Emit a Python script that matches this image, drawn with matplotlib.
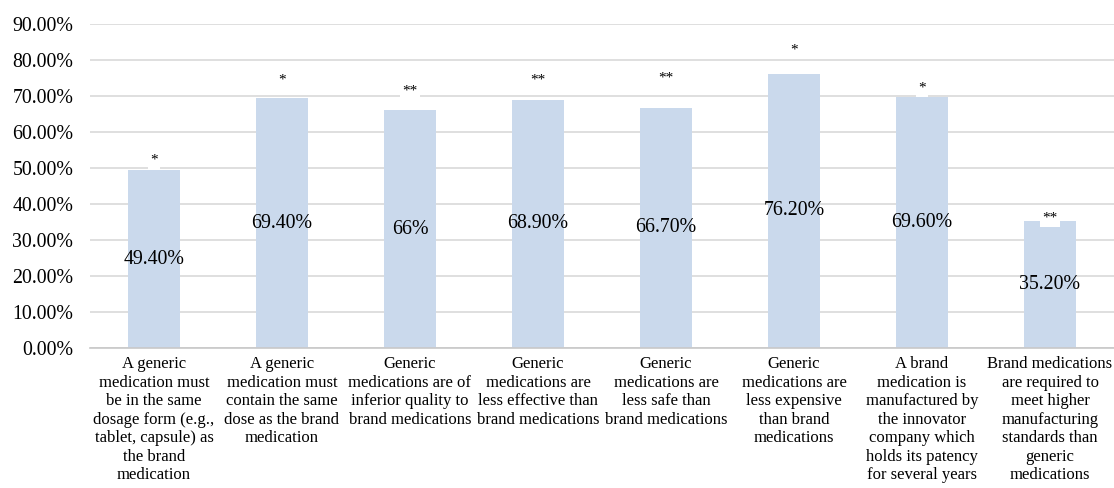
import numpy as np
import matplotlib
matplotlib.use("Agg")
import matplotlib.pyplot as plt

plt.rcParams['font.family'] = ['Liberation Serif', 'DejaVu Serif']

categories = [
    "A generic\nmedication must\nbe in the same\ndosage form (e.g.,\ntablet, capsule) as\nthe brand\nmedication",
    "A generic\nmedication must\ncontain the same\ndose as the brand\nmedication",
    "Generic\nmedications are of\ninferior quality to\nbrand medications",
    "Generic\nmedications are\nless effective than\nbrand medications",
    "Generic\nmedications are\nless safe than\nbrand medications",
    "Generic\nmedications are\nless expensive\nthan brand\nmedications",
    "A brand\nmedication is\nmanufactured by\nthe innovator\ncompany which\nholds its patency\nfor several years",
    "Brand medications\nare required to\nmeet higher\nmanufacturing\nstandards than\ngeneric\nmedications",
]
values = [49.4, 69.4, 66.0, 68.9, 66.7, 76.2, 69.6, 35.2]
significance = ["*", "*", "**", "**", "**", "*", "*", "**"]
y_ticks = [0, 10, 20, 30, 40, 50, 60, 70, 80, 90]

# pixel offsets of the significance marks above each bar
star_offsets = [10, 18, 19, 20, 30, 24, 9, 3]

bar_color = "#CAD9EC"
grid_color = "#D9D9D9"

fig = plt.figure(figsize=(11.14, 4.88), dpi=100)
ax = fig.add_axes([90 / 1114, 1 - 348 / 488, 1 - 90 / 1114, (348 - 24) / 488])

x = np.arange(len(values))
bars = ax.bar(x, values, width=0.41, color=bar_color, zorder=2)

ax.set_xlim(-0.5, len(values) - 0.5)
ax.set_ylim(0, 90)
ax.set_yticks(y_ticks)
ax.set_yticklabels([f"{t:.2f}%" for t in y_ticks], fontsize=14.3)
ax.set_xticks(x)
ax.set_xticklabels(categories, fontsize=12, linespacing=1.21, va="top")
ax.tick_params(axis="both", length=0)
ax.tick_params(axis="y", pad=12)
ax.tick_params(axis="x", pad=6)

ax.yaxis.grid(True, color=grid_color, linewidth=1.2, zorder=0)
ax.set_axisbelow(True)
for side in ["top", "right", "left"]:
    ax.spines[side].set_visible(False)
ax.spines["bottom"].set_color("#C8C8C8")
ax.spines["bottom"].set_linewidth(1.2)

for xi, v, mark, off in zip(x, values, significance, star_offsets):
    label = f"{v:.0f}%" if v == int(v) else f"{v:.2f}%"
    ax.text(xi, v / 2, label, ha="center", va="center", fontsize=14.3, zorder=3)
    ax.annotate(mark, (xi, v), xytext=(0, off), textcoords="offset pixels",
                ha="center", va="center", fontsize=11, zorder=3,
                bbox=dict(boxstyle="square,pad=0.15", fc="white", ec="none"))

fig.savefig("out.png", dpi=100)
